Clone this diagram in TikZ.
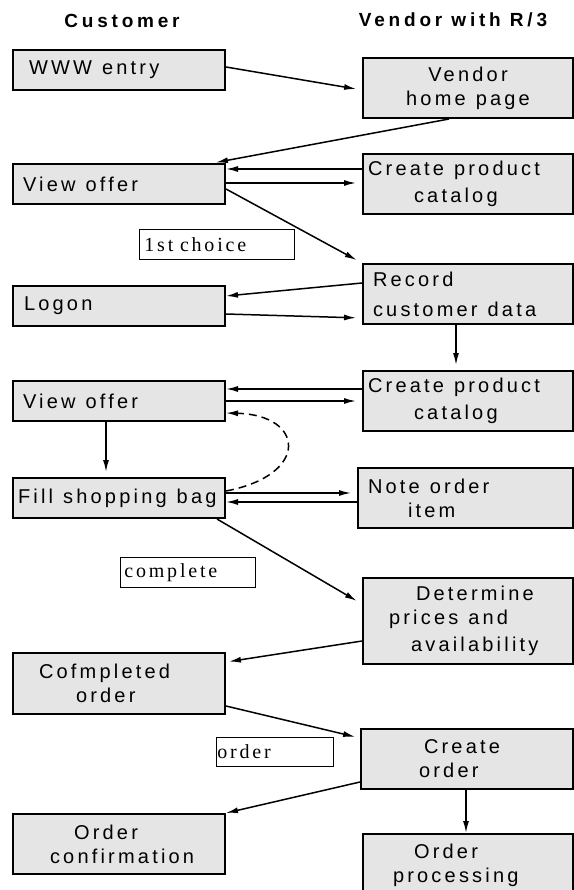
\documentclass[tikz,border=0pt]{standalone}
\usepackage{fontspec}
\usetikzlibrary{arrows.meta}
\newfontfamily\boxfont{Liberation Sans}[LetterSpace=16]
\newfontfamily\headfont{Liberation Sans}[LetterSpace=20]
\newfontfamily\tagfont{Liberation Serif}[LetterSpace=14]
\newcommand\wgap{\hspace{10pt}}
\definecolor{boxfill}{HTML}{E5E5E5}

\begin{document}
\begin{tikzpicture}[
    x=1pt, y=-1pt,
    head/.style={font=\headfont\bfseries\fontsize{19}{23}\selectfont, inner sep=0pt},
    box/.style={rectangle, draw=black, line width=2pt, fill=boxfill, anchor=north west, inner xsep=0pt, inner ysep=0pt, align=left, font=\boxfont\fontsize{20}{24}\selectfont},
    tag/.style={rectangle, draw=black, line width=0.8pt, fill=white, anchor=north west, inner xsep=0pt, inner ysep=0pt, align=left, font=\tagfont\fontsize{20}{24}\selectfont},
    arrow/.style={-{Latex[length=12pt,width=6pt]}, line width=1.5pt},
    gap/.style={shorten >=6pt}
]
\path[use as bounding box, fill=white] (0,0) rectangle (573,890);

% column heads
\node[head] (cust) at (122,21) {Customer};
\node[head] (vend) at (453,20) {Vendor with R/3};

% steps
\node[box, text width=212pt, minimum height=40pt] (www) at (12,49) {\hspace*{16pt}WWW\wgap entry};
\node[box, text width=210pt, minimum height=60pt, align=center] (home) at (362,57) {Vendor\\home\wgap page};
\node[box, text width=212pt, minimum height=40pt] (offer1) at (12,163) {\hspace*{10pt}View\wgap offer};
\node[box, text width=210pt, minimum height=60pt] (catalog1) at (362,153) {\hspace*{5pt}Create\wgap product\\[3pt]\hspace*{51pt}catalog};
\node[tag, text width=155pt, minimum height=30pt] (choice) at (139,229) {\hspace*{5pt}1st choice};
\node[box, text width=210pt, minimum height=60pt] (record) at (362,263) {\hspace*{10pt}Record\\[6pt]\hspace*{10pt}customer\wgap data};
\node[box, text width=212pt, minimum height=40pt] (logon) at (12,285) {\hspace*{11pt}Logon};
\node[box, text width=210pt, minimum height=60pt] (catalog2) at (362,370) {\hspace*{5pt}Create\wgap product\\[3pt]\hspace*{51pt}catalog};
\node[box, text width=212pt, minimum height=40pt] (offer2) at (12,380) {\hspace*{10pt}View\wgap offer};
\node[box, text width=212pt, minimum height=40pt] (bag) at (12,477) {\hspace*{5pt}\mbox{Fill\wgap shopping\wgap bag}};
\node[box, text width=215pt, minimum height=60pt] (item) at (357,467) {\hspace*{10pt}Note\wgap order\\\hspace*{50pt}item};
\node[tag, text width=135pt, minimum height=30pt] (complete) at (120,557) {\hspace*{4pt}complete};
\node[box, text width=210pt, minimum height=86pt] (prices) at (362,577) {\hspace*{53pt}Determine\\\hspace*{26pt}prices\wgap and\\[3pt]\hspace*{48pt}availability};
\node[box, text width=212pt, minimum height=61pt] (done) at (12,652) {\hspace*{26pt}Cofmpleted\\\hspace*{63pt}order};
\node[tag, text width=117pt, minimum height=29pt] (ordertag) at (216,737) {\hspace*{1pt}order};
\node[box, text width=212pt, minimum height=60pt] (create) at (360,728) {\hspace*{63pt}Create\\\hspace*{58pt}order};
\node[box, text width=212pt, minimum height=60pt] (confirm) at (12,813) {\hspace*{61pt}Order\\\hspace*{37pt}confirmation};
\node[box, text width=210pt, minimum height=62pt] (process) at (362,833) {\hspace*{51pt}Order\\\hspace*{30pt}processing};

% flow
\draw[arrow, gap] ([yshift=3pt]www.east) -- ([yshift=-2pt]home.west);
\draw[arrow, shorten >=3pt] ([xshift=-19pt]home.south) -- ([xshift=94pt]offer1.north);
\draw[arrow] ([yshift=15pt]catalog1.west) -- ([yshift=15pt]offer1.east);
\draw[arrow, gap] ([yshift=1pt]offer1.east) -- ([yshift=1pt]catalog1.west);
\draw[arrow, gap] ([yshift=-5pt]offer1.east) -- (record.north west);
\draw[arrow] ([yshift=11pt]record.west) -- ([yshift=10pt]logon.east);
\draw[arrow, gap] ([yshift=-8pt]logon.east) -- ([yshift=-24pt]record.west);
\draw[arrow, shorten >=5pt] ([xshift=-12pt]record.south) -- ([xshift=-12pt]catalog2.north);
\draw[arrow] ([yshift=12pt]catalog2.west) -- ([yshift=12pt]offer2.east);
\draw[arrow, gap] (offer2.east) -- (catalog2.west);
\draw[arrow, shorten >=5pt] ([xshift=-13pt]offer2.south) -- ([xshift=-13pt]bag.north);
\draw[arrow, gap] ([yshift=5pt]bag.east) -- ([yshift=5pt]item.west);
\draw[arrow] ([yshift=-4pt]item.west) -- ([yshift=-4pt]bag.east);
\draw[arrow, dash pattern=on 8pt off 5pt] ([yshift=7pt]bag.east) .. controls (310,475) and (305,415) .. ([yshift=-12pt]offer2.east);
\draw[arrow, gap] ([xshift=98pt]bag.south) -- ([yshift=17pt]prices.west);
\draw[arrow, shorten >=3pt] ([yshift=-20pt]prices.west) -- ([yshift=21.5pt]done.east);
\draw[arrow, shorten >=5pt] ([yshift=-22.5pt]done.east) -- ([yshift=21pt]create.west);
\draw[arrow] ([yshift=-23pt]create.west) -- (confirm.north east);
\draw[arrow] ([xshift=-1pt]create.south) -- ([xshift=-2pt]process.north);
\end{tikzpicture}
\end{document}
